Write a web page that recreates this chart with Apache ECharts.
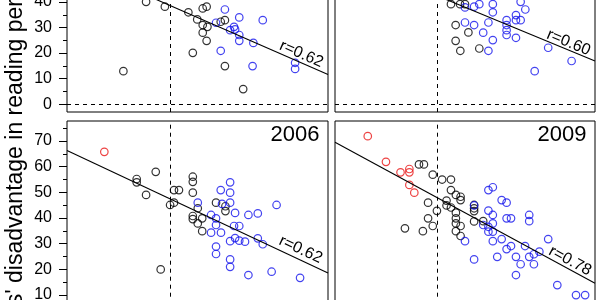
<!DOCTYPE html>
<html><head><meta charset="utf-8">
<script src="https://cdn.jsdelivr.net/npm/echarts@6/dist/echarts.min.js"></script>
<style>html,body{margin:0;padding:0;background:#fff;overflow:hidden;width:600px;height:300px;position:relative}#c{position:absolute;left:0;top:-100px;width:600px;height:440px}</style>
</head><body><div id="c"></div>
<script>
// ---- data ----
const years = ['2000', '2003', '2006', '2009'];
const rValues = ['0.62', '0.60', '0.62', '0.78'];
const yTicks = [0, 10, 20, 30, 40, 50, 60, 70];
const yMinorTicks = [5, 15, 25, 35, 45, 55, 65, 75];
const yRange = [-3.1, 77.8];
const xRange = [0, 100];
const threshold = 39.4;
const lineIntercept = [56.3, 59.1, 66.3, 69.5];
const lineSlope = [-0.447, -0.422, -0.477, -0.549];
const rLabelPos = [[89.8, 19.6], [89.8, 24.1], [89.5, 27.7], [90.4, 23.3]];

const p2000Black = [[21.6,12.9],[30.3,40.1],[37.5,38.2],[46.5,36.0],[48.2,20.1],[52.0,37.5],[53.5,38.2],[49.9,33.2],[52.0,31.0],[53.8,30.3],[52.0,28.0],[53.5,24.8],[58.9,32.3],[60.5,32.9],[60.5,14.9],[67.5,5.9]];
const p2000Blue = [[60.5,37.1],[66.0,34.0],[75.0,32.9],[57.1,31.9],[64.0,30.3],[62.5,29.0],[64.4,29.3],[66.0,27.1],[66.0,24.8],[71.4,24.0],[58.9,20.9],[71.1,14.9],[87.4,16.2],[87.4,13.8]];
const p2000Red = [];

const p2003Black = [[44.6,39.2],[48.1,39.2],[50.0,39.2],[46.4,31.0],[51.3,28.1],[46.4,24.8],[48.2,20.9],[55.5,21.8]];
const p2003Blue = [[50.0,37.9],[53.5,38.2],[55.5,39.2],[60.7,39.2],[71.4,40.1],[60.7,36.0],[73.2,37.1],[50.0,32.0],[53.5,31.0],[59.0,32.0],[66.0,32.9],[69.6,34.9],[69.6,32.9],[71.4,32.9],[66.0,31.0],[66.0,29.0],[66.0,27.1],[57.0,28.0],[69.6,26.0],[60.7,25.1],[59.0,20.9],[82.0,22.1],[91.0,16.9],[76.8,12.9]];
const p2003Red = [];

const p2006Red = [[14.3,65.8]];
const p2006Black = [[26.7,55.2],[26.7,53.9],[30.3,49.0],[34.0,58.0],[35.9,20.0],[39.5,45.1],[41.0,46.0],[41.0,50.9],[42.9,50.9],[48.2,56.1],[48.2,54.1],[48.2,49.9],[50.1,43.8],[57.1,46.0],[60.7,44.6],[60.7,42.7],[48.2,40.8],[48.2,39.6],[50.1,37.9],[51.8,39.9],[51.8,34.9]];
const p2006Blue = [[62.5,53.9],[58.9,50.9],[62.5,49.9],[62.5,46.0],[59.4,45.5],[50.1,46.0],[64.4,42.0],[69.5,41.2],[73.1,41.8],[80.3,45.1],[55.2,41.2],[57.1,39.9],[57.1,37.3],[59.0,34.3],[55.2,34.3],[64.0,36.9],[66.0,36.9],[62.5,31.0],[64.4,32.2],[66.0,31.2],[68.2,30.8],[73.1,32.1],[75.0,29.8],[57.1,28.9],[57.1,26.0],[62.5,23.9],[62.5,21.0],[69.5,17.8],[78.4,19.1],[89.3,16.7]];

const p2009Red = [[12.6,71.9],[19.6,61.9],[25.2,57.8],[28.6,59.1],[28.6,57.8],[28.6,52.9],[30.5,49.9]];
const p2009Black = [[32.3,60.9],[34.2,60.9],[37.6,56.9],[41.2,55.0],[44.6,55.0],[44.6,50.9],[46.5,49.0],[48.3,48.3],[48.3,47.0],[42.9,46.8],[42.9,44.9],[44.6,44.1],[46.5,42.1],[46.5,39.9],[46.5,37.9],[48.3,36.9],[46.5,34.9],[48.3,33.0],[39.2,42.8],[35.8,46.0],[35.8,39.9],[37.6,36.9],[33.8,34.9],[26.9,36.0],[53.5,45.1],[53.5,43.8],[53.5,42.7],[53.5,38.7],[57.0,38.8]];
const p2009Blue = [[50.0,31.0],[53.5,23.9],[59.0,50.9],[60.7,52.0],[64.1,47.0],[66.0,46.0],[59.0,42.9],[60.7,41.2],[66.0,39.9],[67.7,39.9],[74.7,41.2],[74.7,38.8],[57.0,37.3],[59.0,36.6],[60.7,37.9],[59.0,34.7],[60.7,34.7],[60.7,31.0],[64.1,31.8],[66.0,27.9],[67.7,29.1],[69.6,24.9],[71.4,22.0],[62.4,24.9],[73.1,29.1],[74.7,24.9],[76.5,22.0],[76.5,25.9],[78.6,26.9],[82.0,31.8],[69.6,17.8],[85.5,13.9],[92.7,10.0],[96.2,10.0],[53.5,44.9]];

const yTitle = "Boys' disadvantage in reading performance";

// ---- chart ----
const panels = [
  { black: p2000Black, blue: p2000Blue, red: p2000Red },
  { black: p2003Black, blue: p2003Blue, red: p2003Red },
  { black: p2006Black, blue: p2006Blue, red: p2006Red },
  { black: p2009Black, blue: p2009Blue, red: p2009Red }
];
const FONT = '"Liberation Sans", Arial, Helvetica, sans-serif';
// chart canvas is shifted up by 100px inside the 600x300 window
const gridPos = [
  { left: 67, width: 261, top: 5.7, height: 206.3 },
  { left: 335, width: 260, top: 5.7, height: 206.3 },
  { left: 67, width: 261, top: 221, height: 207.7 },
  { left: 335, width: 260, top: 221, height: 207.7 }
];
const colors = { black: '#000000', blue: '#1414ec', red: '#e81414' };

const grid = [], xAxis = [], yAxis = [], series = [];
panels.forEach((p, i) => {
  const isLeft = (i % 2 === 0);
  grid.push(Object.assign({ show: true, borderColor: '#000', borderWidth: 1, backgroundColor: '#fff', containLabel: false }, gridPos[i]));
  xAxis.push({ type: 'value', gridIndex: i, min: xRange[0], max: xRange[1], show: false });
  yAxis.push({
    type: 'value', gridIndex: i, min: yRange[0], max: yRange[1], position: 'left',
    splitLine: { show: false }, axisLine: { show: false },
    axisTick: { show: isLeft, length: 8, customValues: yTicks, lineStyle: { color: '#000', width: 1 } },
    axisLabel: { show: isLeft, customValues: yTicks, margin: 15, color: '#000', fontSize: 16, fontFamily: FONT }
  });
  const yi = yAxis.length - 1;
  if (isLeft) {
    yAxis.push({
      type: 'value', gridIndex: i, min: yRange[0], max: yRange[1], position: 'left', offset: 0,
      splitLine: { show: false }, axisLine: { show: false },
      axisTick: { show: true, length: 4, customValues: yMinorTicks, lineStyle: { color: '#000', width: 1 } },
      axisLabel: { show: false }
    });
  }
  ['black', 'blue', 'red'].forEach(c => {
    series.push({
      type: 'scatter', xAxisIndex: i, yAxisIndex: yi, data: p[c],
      symbol: 'circle', symbolSize: 7.5, silent: true,
      itemStyle: { color: 'rgba(0,0,0,0)', borderColor: colors[c], borderWidth: 1.2 }
    });
  });
  series.push({
    type: 'line', xAxisIndex: i, yAxisIndex: yi, showSymbol: false, silent: true, z: 3,
    data: [[xRange[0], lineIntercept[i] + lineSlope[i] * xRange[0]], [xRange[1], lineIntercept[i] + lineSlope[i] * xRange[1]]],
    lineStyle: { color: '#000', width: 1.1 },
    markLine: {
      silent: true, symbol: 'none', label: { show: false }, animation: false,
      lineStyle: { color: '#000', width: 1, type: [4, 4] },
      data: [{ yAxis: 0 }, { xAxis: threshold }]
    }
  });
});

const chart = echarts.init(document.getElementById('c'), null, { renderer: 'canvas' });
chart.setOption({ animation: false, grid, xAxis, yAxis, series });

// annotations placed through the panels' scales
const yAxisIndexOfPanel = [0, 2, 3, 5];
const graphic = [];
panels.forEach((p, i) => {
  const finder = { xAxisIndex: i, yAxisIndex: yAxisIndexOfPanel[i] };
  const a = chart.convertToPixel(finder, [0, lineIntercept[i]]);
  const b = chart.convertToPixel(finder, [100, lineIntercept[i] + lineSlope[i] * 100]);
  const ang = Math.atan2(-(b[1] - a[1]), b[0] - a[0]);
  const rp = chart.convertToPixel(finder, rLabelPos[i]);
  graphic.push({
    type: 'text', x: rp[0], y: rp[1], rotation: ang, silent: true,
    style: { text: 'r=' + rValues[i], font: '16px ' + FONT, fill: '#000', align: 'center', verticalAlign: 'middle' }
  });
  const yp = chart.convertToPixel(finder, [96.7, 72.3]);
  graphic.push({
    type: 'text', x: yp[0], y: yp[1], silent: true,
    style: { text: years[i], font: '22px ' + FONT, fill: '#000', align: 'right', verticalAlign: 'middle' }
  });
});
graphic.push({
  type: 'text', x: 16, y: 224, rotation: Math.PI / 2, silent: true,
  style: { text: yTitle, font: '23px ' + FONT, fill: '#000', align: 'center', verticalAlign: 'middle' }
});
chart.setOption({ graphic });
</script>
</body></html>
